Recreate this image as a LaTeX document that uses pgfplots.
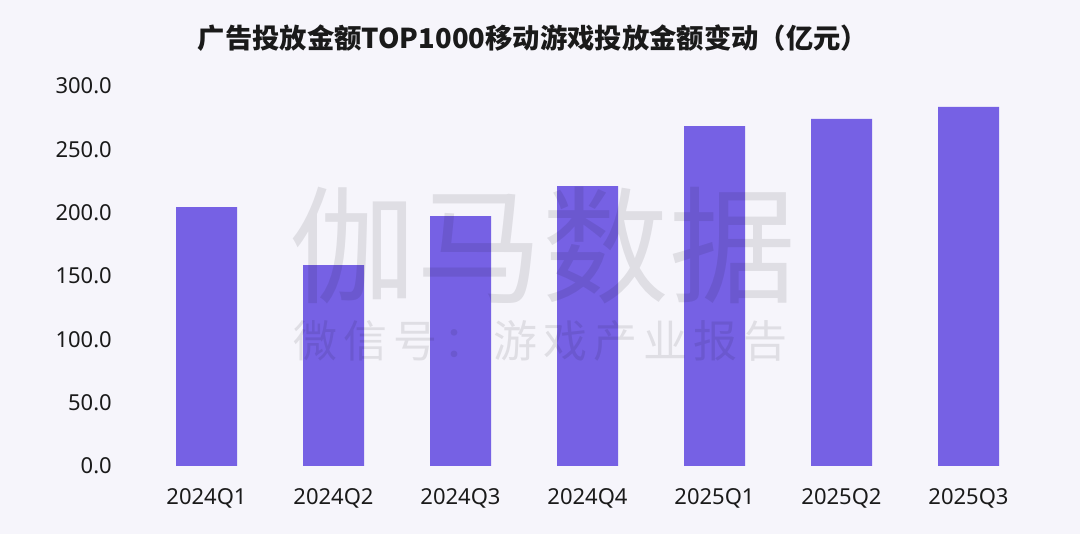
\documentclass[border=0pt]{standalone}
\usepackage{fontspec}
\setmainfont{Noto Sans}
\newfontfamily\cjk{Noto Sans CJK SC}
\usepackage{pgfplots}
\pgfplotsset{compat=1.18}
\definecolor{bg}{HTML}{F6F5FB}
\definecolor{barc}{HTML}{7661E4}
\definecolor{txt}{HTML}{1A1A1A}
\begin{document}
\begin{tikzpicture}
\useasboundingbox (-97.725pt,-51pt) rectangle (712.275pt,349.5pt);
\fill[bg] (-97.725pt,-51pt) rectangle (712.275pt,349.5pt);
\begin{axis}[
  at={(0,0)}, anchor=south west,
  scale only axis, width=685.8pt, height=285pt,
  xmin=-0.6, xmax=6.6, ymin=0, ymax=300,
  axis line style={draw=none},
  clip=false,
  xtick={0,1,2,3,4,5,6},
  xticklabels={2024Q1,2024Q2,2024Q3,2024Q4,2025Q1,2025Q2,2025Q3},
  ytick={0,50,100,150,200,250,300},
  major tick length=0pt,
  tick style={draw=none},
  /pgf/number format/.cd, fixed, fixed zerofill, precision=1, assume math mode=true,
  /pgfplots/.cd,
  yticklabel style={anchor=east, inner sep=0pt, xshift=-13.7pt, font=\fontsize{16.5pt}{18pt}\selectfont, text=txt},
  xticklabel style={anchor=north, inner sep=0pt, yshift=-16.5pt, font=\fontsize{16.5pt}{18pt}\selectfont, text=txt},
]
\addplot[ybar, bar width=45.75pt, fill=barc, draw=none] coordinates {
(0,204.4) (1,158.6) (2,197.3) (3,221.0) (4,268.4) (5,274.1) (6,283.6)};
\end{axis}
\node[text=black, opacity=0.09, inner sep=0pt] at (309.5pt,165pt) {\cjk\fontsize{95pt}{100pt}\selectfont 伽马数据};
\node[text=black, opacity=0.09, inner sep=0pt] at (308pt,93.75pt) {\cjk\fontsize{33pt}{36pt}\selectfont 微\hspace{4.5pt}信\hspace{4.5pt}号\hspace{4.5pt}：\hspace{4.5pt}游\hspace{4.5pt}戏\hspace{4.5pt}产\hspace{4.5pt}业\hspace{4.5pt}报\hspace{4.5pt}告};
\node[text=txt, inner sep=0pt] at (302pt,321pt) {\cjk\bfseries\fontsize{20.5pt}{24pt}\selectfont 广告投放金额TOP1000移动游戏投放金额变动（亿元）};
\end{tikzpicture}
\end{document}
